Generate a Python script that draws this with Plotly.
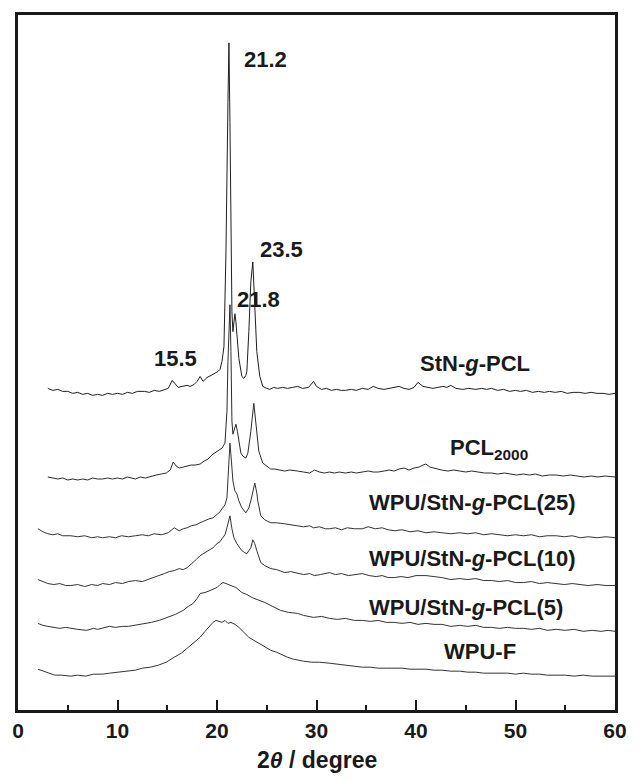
import plotly.graph_objects as go

# ---- data (2theta in degree, intensity in arbitrary units, offset stacked) ----
stn_x = [3.0,3.5,4.0,4.5,5.0,5.5,6.0,6.5,7.0,7.5,8.0,8.5,9.0,9.5,10.0,10.5,11.0,11.5,12.0,12.7,13.2,13.7,14.2,14.7,15.1,15.5,15.8,16.1,16.5,17.0,17.3,17.7,18.0,18.3,18.6,19.0,19.4,19.8,20.1,20.3,20.5,20.7,20.9,21.1,21.2,21.3,21.4,21.5,21.6,21.7,21.8,21.9,22.0,22.2,22.5,22.7,22.9,23.0,23.2,23.4,23.6,23.8,24.0,24.3,24.6,25.0,25.3,25.7,26.1,26.6,27.1,27.6,28.1,28.6,29.2,29.7,30.0,30.5,31.0,31.5,32.0,32.5,32.9,33.5,34.0,34.6,35.2,35.7,36.2,36.8,37.3,37.8,38.3,38.8,39.3,39.8,40.2,40.7,41.2,41.7,42.2,42.7,43.1,43.5,44.0,44.7,45.3,46.0,46.6,47.1,47.6,48.2,48.8,49.4,50.0,50.5,51.1,51.7,52.3,52.9,53.4,54.0,54.6,55.2,55.8,56.4,57.0,57.6,58.2,58.8,59.4,60.0]
stn_y = [323,321,322,320,320,318,319,317,318,316,317,316,318,317,318,317,319,318,320,320,319,321,320,322,323,331,327,324,325,326,325,327,330,335,330,334,336,338,340,342,350,365,460,610,670,590,460,400,380,390,398,390,375,353,335,333,336,340,380,430,450,410,360,335,325,323,322,324,323,324,323,324,325,323,324,330,325,322,323,321,322,321,321,322,321,323,322,325,323,322,323,324,325,323,322,324,329,325,324,323,324,325,324,326,323,322,323,322,323,322,323,321,322,320,321,320,321,319,320,319,320,319,320,318,319,319,318,319,318,318,317,318]

pcl_x = [3.0,3.5,4.0,4.5,5.0,5.5,6.0,6.5,7.0,7.5,8.0,8.5,9.0,9.5,10.0,10.5,11.0,11.8,12.3,12.8,13.4,13.9,14.4,14.9,15.3,15.6,15.9,16.2,16.6,17.0,17.4,17.8,18.3,18.7,19.1,19.6,20.0,20.3,20.5,20.8,21.0,21.1,21.2,21.3,21.4,21.5,21.6,21.75,21.9,22.05,22.2,22.4,22.6,22.9,23.1,23.4,23.7,23.9,24.0,24.2,24.6,25.0,25.4,25.8,26.3,26.8,27.3,27.8,28.1,28.7,29.3,29.8,30.3,30.8,31.3,31.8,32.3,32.9,33.5,34.0,34.6,35.2,35.7,36.2,36.8,37.3,37.8,38.3,38.8,39.3,39.8,40.3,40.7,41.0,41.4,41.8,42.0,42.6,43.2,43.8,44.4,45.0,45.6,46.2,46.9,47.6,48.2,48.9,49.5,50.1,50.8,51.4,52.0,52.7,53.4,54.1,54.8,55.5,56.2,56.9,57.6,58.3,59.0,59.6,60.0]
pcl_y = [234,233,232,233,231,232,231,232,231,233,232,232,233,232,233,232,234,232,234,233,235,236,237,238,241,249,245,243,244,245,246,246,247,250,252,257,260,262,263,268,300,350,380,407,360,290,277,282,287,280,268,258,255,253,258,280,308,290,280,260,248,245,242,242,241,240,241,240,240,239,238,241,239,238,239,238,239,238,239,238,239,240,239,239,240,241,240,242,243,241,243,244,246,247,244,243,242,241,240,241,240,239,240,239,238,238,237,238,237,236,237,236,237,235,236,236,235,236,235,234,235,234,235,234,234]

w25_x = [2.0,2.5,3.0,3.5,4.0,4.5,5.3,6.0,6.7,7.4,8.0,8.5,9.2,9.8,10.4,11.1,11.8,12.5,13.1,13.7,14.4,15.1,15.7,16.2,16.6,17.0,17.4,17.9,18.3,18.7,19.2,19.6,20.0,20.3,20.5,20.8,21.0,21.15,21.3,21.45,21.6,21.8,22.0,22.2,22.5,22.9,23.2,23.4,23.6,23.8,24.0,24.1,24.4,24.8,25.4,26.0,26.8,27.4,28.1,28.7,29.3,29.7,30.3,30.9,31.3,31.9,32.5,33.1,33.8,34.6,35.2,35.9,36.6,37.2,37.9,38.6,39.4,40.2,41.0,41.8,42.6,43.5,44.4,45.2,46.0,46.8,47.6,48.4,49.2,50.0,50.8,51.6,52.4,53.2,54.1,54.9,55.7,56.5,57.3,58.2,59.1,60.0]
w25_y = [182,179,177,176,177,175,175,174,175,173,174,173,174,173,175,174,175,176,175,177,176,178,183,180,182,183,185,186,188,190,192,193,196,199,202,206,213,240,268,250,230,220,217,210,203,198,203,210,218,228,218,210,195,191,188,188,187,186,185,184,185,183,184,182,182,183,181,183,182,182,184,182,183,181,180,181,179,180,178,179,178,177,178,177,178,176,177,176,175,176,175,176,174,175,175,174,175,173,174,173,174,173]

w10_x = [2.0,2.5,3.0,3.6,4.2,4.8,5.3,6.0,6.7,7.4,8.0,8.5,9.2,9.8,10.5,11.1,11.8,12.5,13.1,13.7,14.2,14.7,15.2,15.7,16.2,16.6,17.0,17.5,17.9,18.3,18.8,19.2,19.6,20.0,20.3,20.5,20.8,21.0,21.15,21.3,21.5,21.7,22.0,22.2,22.5,22.8,23.0,23.2,23.4,23.6,23.8,24.0,24.2,24.4,24.8,25.4,26.0,26.8,27.4,28.1,28.7,29.3,29.8,30.4,31.0,31.3,31.9,32.5,33.2,33.9,34.6,35.3,36.0,36.6,37.2,37.8,38.5,39.2,40.0,41.0,41.8,42.6,43.5,44.4,45.2,46.0,46.8,47.6,48.4,49.2,50.0,50.8,51.6,52.4,53.2,54.1,54.9,55.7,56.5,57.3,58.2,59.1,60.0]
w10_y = [131,129,127,126,127,125,125,126,124,126,125,127,126,128,127,129,130,129,131,133,135,137,139,140,142,141,143,147,151,155,158,161,163,167,169,172,176,183,190,195,182,173,167,164,160,158,157,160,163,171,167,160,154,148,145,142,141,138,139,137,136,137,135,136,137,138,136,137,135,136,137,135,134,135,133,133,134,133,135,135,134,133,131,132,131,132,130,130,129,130,128,128,129,127,128,127,126,127,126,125,126,125,125]

w5_x = [2.0,2.5,3.0,3.6,4.2,4.8,5.3,6.0,6.9,7.6,8.0,8.5,9.2,9.8,10.5,11.1,11.8,12.5,13.4,14.2,15.1,15.8,16.6,17.1,17.6,18.0,18.3,18.8,19.3,19.7,20.0,20.3,20.6,20.9,21.2,21.5,21.9,22.5,23.0,23.5,24.1,24.8,25.6,26.4,27.2,28.1,28.7,29.7,30.5,31.3,32.1,32.9,33.8,34.6,35.4,36.2,37.0,37.8,38.6,39.4,40.2,41.0,41.8,42.6,43.5,44.4,45.2,46.0,46.8,47.6,48.4,49.2,50.0,50.8,51.6,52.4,53.2,54.1,55.0,55.9,56.8,57.7,58.6,59.3,60.0]
w5_y = [87,85,84,83,82,83,82,81,80,82,81,82,84,83,84,84,85,86,88,90,93,96,100,104,107,112,117,118,120,122,123,126,128,127,126,125,123,118,116,113,111,108,104,100,98,97,95,93,94,92,91,92,90,90,89,90,88,88,87,88,86,87,86,86,84,85,84,85,83,83,82,83,82,82,81,82,80,81,80,81,79,80,79,80,79]

wf_x = [2.0,2.5,3.0,3.7,4.4,5.3,6.0,6.8,7.6,8.5,9.2,10.0,10.8,11.8,12.5,13.3,14.1,14.9,15.7,16.4,17.0,17.6,18.3,18.8,19.3,19.6,19.9,20.2,20.5,20.8,21.1,21.4,21.8,22.2,22.7,23.2,23.7,24.2,24.8,25.4,26.0,26.6,27.1,27.7,28.1,28.7,29.5,30.3,31.3,32.2,33.0,33.8,34.6,35.4,36.2,37.0,37.8,38.6,39.4,40.2,41.0,41.8,42.6,43.5,44.4,45.2,46.0,46.8,47.6,48.4,49.2,50.0,50.8,51.6,52.4,53.2,54.1,55.0,55.9,56.8,57.7,58.6,59.3,60.0]
wf_y = [41,39,37,35,35,34,35,34,36,36,37,38,39,40,42,43,45,48,53,57,62,67,73,79,85,88,90,89,88,90,87,88,86,83,78,73,70,67,64,60,58,55,53,51,50,49,48,48,47,46,45,44,43,43,42,42,42,42,41,41,41,40,40,39,39,38,38,37,37,37,37,36,37,36,36,35,35,35,34,35,34,34,34,34]

series = [
    ("StN-g-PCL", stn_x, stn_y, "#1e1e1e"),
    ("PCL2000", pcl_x, pcl_y, "#2a2a2a"),
    ("WPU/StN-g-PCL(25)", w25_x, w25_y, "#333333"),
    ("WPU/StN-g-PCL(10)", w10_x, w10_y, "#333333"),
    ("WPU/StN-g-PCL(5)", w5_x, w5_y, "#333333"),
    ("WPU-F", wf_x, wf_y, "#333333"),
]

x_ticks = [0, 10, 20, 30, 40, 50, 60]

fig = go.Figure()
for name, xs, ys, col in series:
    fig.add_trace(go.Scatter(x=xs, y=ys, mode="lines", name=name,
                             line=dict(color=col, width=1), showlegend=False,
                             hoverinfo="skip"))

FONT = "Liberation Sans, Arial, Helvetica, sans-serif"
lab_font = dict(family=FONT, size=22, color="#1a1a1a")

def ann(text, x, y, xanchor="center", yanchor="middle"):
    fig.add_annotation(text=text, x=x, y=y, xref="x", yref="y", showarrow=False,
                       xanchor=xanchor, yanchor=yanchor, font=lab_font)

ann("<b>21.2</b>", 24.9, 653)
ann("<b>23.5</b>", 26.45, 462)
ann("<b>21.8</b>", 24.15, 412)
ann("<b>15.5</b>", 15.8, 353)
ann("<b>StN-<i>g</i>-PCL</b>", 45.9, 348)
ann("<b>PCL<sub>2000</sub></b>", 43.2, 262, xanchor="left")
ann("<b>WPU/StN-<i>g</i>-PCL(25)</b>", 35.1, 208, xanchor="left")
ann("<b>WPU/StN-<i>g</i>-PCL(10)</b>", 35.1, 152, xanchor="left")
ann("<b>WPU/StN-<i>g</i>-PCL(5)</b>", 35.1, 103, xanchor="left")
ann("<b>WPU-F</b>", 46.4, 59)

fig.add_annotation(text="<b>2<i>θ</i> / degree</b>", x=0.5, y=-0.072, xref="paper", yref="paper",
                   showarrow=False, xanchor="center", yanchor="middle",
                   font=dict(family=FONT, size=23, color="#1a1a1a"))

fig.update_layout(
    width=639, height=779,
    margin=dict(l=12, r=12, t=12, b=69),
    paper_bgcolor="white", plot_bgcolor="white",
    xaxis=dict(range=[0, 60], tickvals=x_ticks, ticks="inside", ticklen=10, tickwidth=2,
               tickcolor="#1a1a1a", showline=True, linewidth=3, linecolor="#1a1a1a",
               mirror=True, showgrid=False, zeroline=False,
               tickfont=dict(family=FONT, size=21, color="#1a1a1a", weight="bold"),
               ticklabelstandoff=0,
               minor=dict(dtick=5, ticks="inside", ticklen=5, tickwidth=2, tickcolor="#1a1a1a",
                          showgrid=False)),
    yaxis=dict(range=[0, 698], showticklabels=False, ticks="", showline=True, linewidth=3,
               linecolor="#1a1a1a", mirror=True, showgrid=False, zeroline=False),
)

fig.write_html("out.html")
